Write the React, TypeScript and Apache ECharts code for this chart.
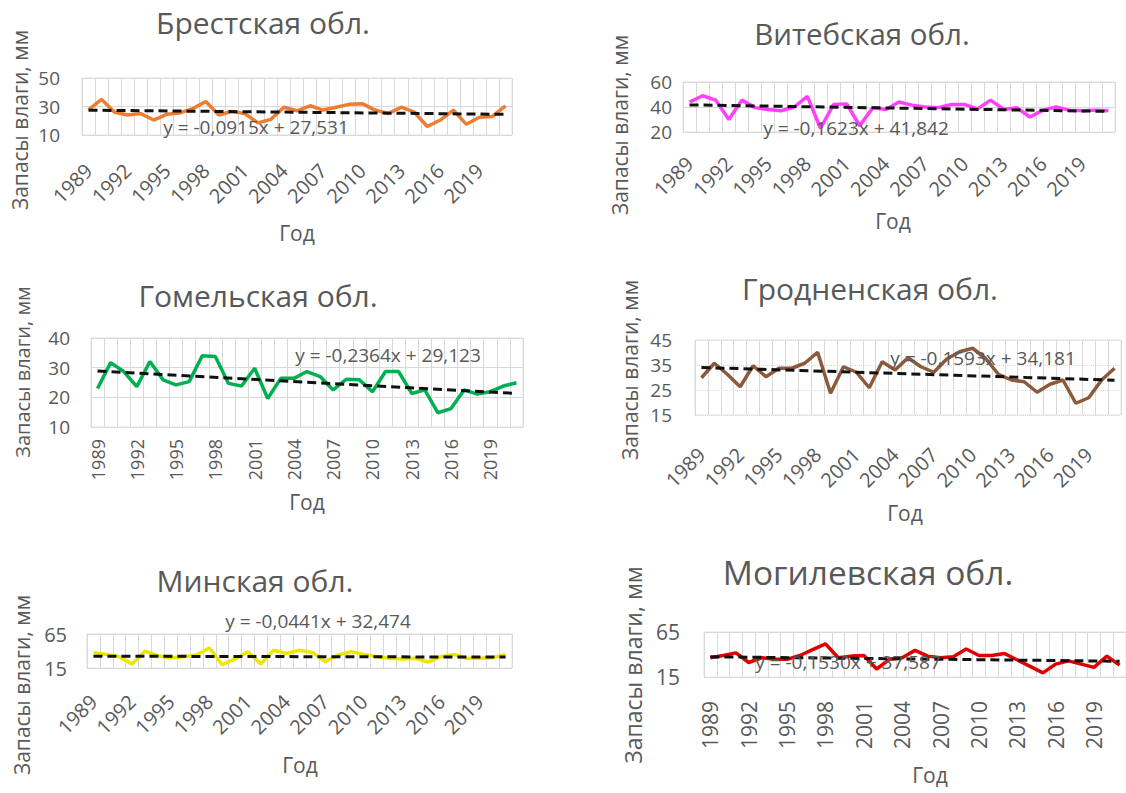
import React, { useEffect, useRef } from 'react';
import * as echarts from 'echarts';

const years = ['1989','1990','1991','1992','1993','1994','1995','1996','1997','1998','1999','2000','2001','2002','2003','2004','2005','2006','2007','2008','2009','2010','2011','2012','2013','2014','2015','2016','2017','2018','2019','2020','2021'];

const brest = [27.6, 35, 26, 24, 25, 20.5, 24.5, 25.5, 28.5, 33.5, 24, 26.5, 25, 18.5, 21, 29.5, 27, 30.5, 27.5, 29.5, 31.5, 32, 27.5, 25, 29.5, 26, 16, 20.5, 27.5, 17.5, 22.5, 23, 30.5];
const vitebsk = [44, 49, 45.5, 30, 45.5, 39.5, 38, 37, 40, 48.5, 23, 42, 42.5, 25, 39.5, 38, 44, 41.5, 40, 39.5, 42, 42, 38.5, 45.5, 38, 39.5, 32, 37.5, 40, 37.5, 37, 37.5, 37];
const gomel = [23, 31.7, 28.7, 23.6, 32.1, 25.9, 24.2, 25.3, 34, 33.8, 24.7, 23.8, 29.8, 19.6, 26.4, 26.4, 28.7, 27, 22.5, 26.1, 25.9, 21.9, 28.7, 28.7, 21.3, 22.5, 14.8, 16.2, 22.5, 21.1, 21.9, 23.8, 24.9];
const grodno = [29.9, 35.7, 31.3, 26.3, 34.7, 30.3, 33.7, 33.7, 35.7, 40.1, 23.7, 34.3, 32.1, 25.9, 36.3, 33, 37.9, 34.3, 32.1, 37.4, 40.3, 41.7, 37.7, 31.3, 29, 28.3, 24.1, 27.3, 29, 19.7, 21.9, 29, 33.7];
const minsk = [37.9, 35, 31.7, 20.7, 39.8, 33.1, 30.2, 31.7, 34, 44.5, 19.8, 28.3, 38.8, 20.7, 41.2, 36.4, 41.2, 37.9, 24.5, 34, 38.8, 35, 31.7, 29.3, 28.3, 29.3, 23.6, 31.7, 35, 29.3, 29.3, 30.2, 35];
const mogilev = [36.4, 38.9, 41.8, 31.1, 36.4, 34.6, 34.6, 38.9, 45.4, 51.8, 36.4, 38.2, 38.9, 23.9, 34.6, 36.4, 44.6, 38.2, 36.4, 37.5, 46.1, 38.9, 38.9, 41.1, 33.9, 26.8, 19.6, 29.3, 32.9, 29.3, 25.7, 38.2, 28.2];

const regionNames = ['Брестская обл.', 'Витебская обл.', 'Гомельская обл.', 'Гродненская обл.', 'Минская обл.', 'Могилевская обл.'];
const seriesValues = [brest, vitebsk, gomel, grodno, minsk, mogilev];
const trendSlopes = [-0.0915, -0.1623, -0.2364, -0.1593, -0.0441, -0.1530];
const trendIntercepts = [27.531, 41.842, 29.123, 34.181, 32.474, 37.587];
const trendLabels = ['y = -0,0915x + 27,531', 'y = -0,1623x + 41,842', 'y = -0,2364x + 29,123', 'y = -0,1593x + 34,181', 'y = -0,0441x + 32,474', 'y = -0,1530x + 37,587'];
const yMins = [10, 20, 10, 15, 15, 15];
const yMaxs = [50, 60, 40, 45, 65, 65];
const yIntervals = [20, 20, 10, 10, 50, 50];
const lineColors = ['#ED7D31', '#FF40FF', '#00B050', '#8B5A3C', '#EEE600', '#E00000'];
const yAxisTitle = 'Запасы влаги, мм';
const xAxisTitle = 'Год';

// layout (pixels)
const grids = [
  { left: 82, top: 78, width: 430, height: 57 },
  { left: 683, top: 82, width: 432, height: 50 },
  { left: 91, top: 338, width: 432, height: 89 },
  { left: 695, top: 340, width: 426, height: 75 },
  { left: 87, top: 634, width: 425, height: 34 },
  { left: 704, top: 632, width: 425, height: 45 },
];
const rotations = [45, 45, 90, 45, 45, 90];
const xLabelMargins = [32, 28, 12, 36, 30, 24];
const xLabelSizes = [20, 20, 18, 20, 20, 21];
const yLabelMargins = [22, 11, 21, 23, 20, 24];
const yLabelSizes = [19, 19, 19, 19, 20, 21];
const titlePos = [[263, 22, 30], [862, 33, 29.5], [258, 295, 30], [870, 288, 30], [255, 580, 30], [868, 572, 33.5]];
const yNamePos = [[20, 120, 21], [620, 125, 21], [22, 372, 20], [630, 370, 21], [22, 685, 21], [633, 665, 23]];
const xNamePos = [[297, 233], [893, 221], [307, 502], [905, 513], [300, 765], [930, 775]];
const eqPos = [[256, 127], [856, 128], [388, 355], [983, 358], [318, 621], [848, 662]];

const FONT = '"Open Sans", "Noto Sans", sans-serif';
const GREY = '#595959';

export default function App() {
  const ref = useRef<HTMLDivElement>(null);
  useEffect(() => {
    if (!ref.current) return;
    const chart = echarts.init(ref.current, undefined, { renderer: 'svg' });
    const xAxis: any[] = [];
    const yAxis: any[] = [];
    const series: any[] = [];
    const graphic: any[] = [];
    grids.forEach((g, i) => {
      xAxis.push({
        type: 'category', gridIndex: i, data: years, boundaryGap: true,
        axisLine: { show: false }, axisTick: { show: false },
        axisLabel: { interval: 2, rotate: rotations[i], margin: xLabelMargins[i], color: GREY, fontSize: xLabelSizes[i], fontFamily: FONT },
        splitLine: { show: true, interval: 0, lineStyle: { color: '#D9D9D9', width: 1 } },
      });
      yAxis.push({
        type: 'value', gridIndex: i, min: yMins[i], max: yMaxs[i], interval: yIntervals[i],
        axisLine: { show: false }, axisTick: { show: false },
        axisLabel: { margin: yLabelMargins[i], color: GREY, fontSize: yLabelSizes[i], fontFamily: FONT },
        splitLine: { show: true, lineStyle: { color: '#D9D9D9', width: 1, type: i === 3 ? 'dotted' : 'solid' } },
      });
      series.push({
        type: 'line', xAxisIndex: i, yAxisIndex: i, data: seriesValues[i], symbol: 'none',
        lineStyle: { color: lineColors[i], width: 3.5 }, z: 2,
      });
      const n = years.length;
      series.push({
        type: 'line', xAxisIndex: i, yAxisIndex: i, symbol: 'none',
        data: [[years[0], trendSlopes[i] * 1 + trendIntercepts[i]], [years[n - 1], trendSlopes[i] * n + trendIntercepts[i]]],
        lineStyle: { color: '#111', width: 3, type: [9, 5] }, z: 3,
      });
      graphic.push({
        type: 'text', x: titlePos[i][0], y: titlePos[i][1], z: 10,
        style: { text: regionNames[i], fontSize: titlePos[i][2], fontFamily: FONT, fill: GREY, align: 'center', verticalAlign: 'middle' },
      });
      graphic.push({
        type: 'text', x: yNamePos[i][0], y: yNamePos[i][1], rotation: Math.PI / 2, z: 10,
        style: { text: yAxisTitle, fontSize: yNamePos[i][2], fontFamily: FONT, fill: GREY, align: 'center', verticalAlign: 'middle' },
      });
      graphic.push({
        type: 'text', x: xNamePos[i][0], y: xNamePos[i][1], z: 10,
        style: { text: xAxisTitle, fontSize: 21, fontFamily: FONT, fill: GREY, align: 'center', verticalAlign: 'middle' },
      });
      graphic.push({
        type: 'text', x: eqPos[i][0], y: eqPos[i][1], z: 10,
        style: { text: trendLabels[i], fontSize: 19, fontFamily: FONT, fill: GREY, align: 'center', verticalAlign: 'middle' },
      });
    });
    chart.setOption({
      animation: false,
      backgroundColor: '#fff',
      grid: grids.map((g) => ({ ...g, show: true, borderColor: '#E3E3E3', borderWidth: 1, backgroundColor: 'transparent', containLabel: false })),
      xAxis, yAxis, series, graphic,
    });
    return () => chart.dispose();
  }, []);
  return (
    <div style={{ position: 'fixed', left: 0, top: 0, width: 1126, height: 793, overflow: 'hidden', background: '#fff' }}>
      <div ref={ref} style={{ width: 1126, height: 793 }} />
    </div>
  );
}
